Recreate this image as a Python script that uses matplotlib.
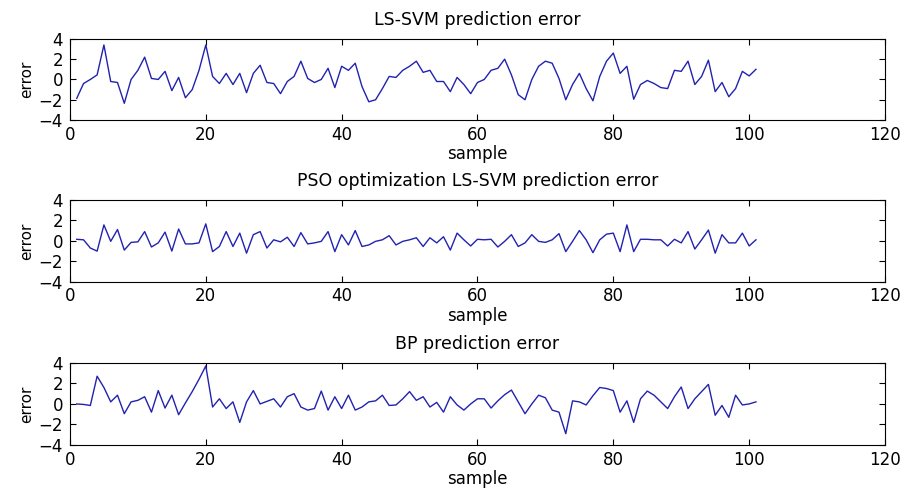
import numpy as np
import matplotlib; matplotlib.use('Agg')
import matplotlib.pyplot as plt

# samples 1..101
sample = np.arange(1, 102)

lssvm_err = [-1.86, -0.4, 0.0, 0.45, 3.4, -0.2, -0.3, -2.35, 0.0, 0.9,
             2.2, 0.1, 0.0, 0.8, -1.1, 0.2, -1.8, -1.0, 0.9, 3.4,
             0.3, -0.4, 0.6, -0.5, 0.6, -1.3, 0.6, 1.4, -0.3, -0.4,
             -1.4, -0.2, 0.3, 1.8, 0.1, -0.3, 0.0, 1.1, -0.8, 1.3,
             0.9, 1.6, -0.7, -2.2, -2.0, -0.9, 0.3, 0.2, 0.9, 1.3,
             1.8, 0.7, 0.9, -0.2, -0.2, -1.2, 0.2, -0.5, -1.4, -0.3,
             0.0, 0.9, 1.1, 2.0, 0.45, -1.5, -2.0, 0.0, 1.3, 1.8,
             1.6, 0.1, -2.0, -0.5, 0.6, -0.9, -2.1, 0.3, 1.8, 2.6,
             0.6, 1.3, -1.95, -0.5, -0.1, -0.4, -0.8, -0.9, 0.9, 0.8,
             1.8, -0.5, 0.3, 1.9, -1.2, -0.3, -1.7, -0.9, 0.8, 0.35,
             1.0]

pso_err = [0.15, 0.1, -0.7, -1.0, 1.55, -0.05, 1.1, -0.9, -0.15, -0.1,
           0.9, -0.6, -0.2, 0.85, -1.0, 1.15, -0.3, -0.3, -0.2, 1.65,
           -1.05, -0.55, 0.9, -0.55, 0.75, -1.2, 0.6, 0.9, -0.7, 0.1,
           -0.1, 0.35, -0.55, 0.8, -0.3, -0.2, -0.05, 0.9, -1.05, 0.6,
           -0.4, 1.0, -0.55, -0.4, -0.05, 0.1, 0.5, -0.4, -0.05, 0.1,
           0.3, -0.55, 0.3, -0.2, 0.4, -0.9, 0.75, 0.1, -0.5, 0.15,
           0.1, 0.15, -0.6, -0.05, 0.6, -0.55, -0.2, 0.6, -0.05, -0.15,
           0.1, 0.7, -1.05, -0.05, 1.0, 0.1, -1.15, 0.1, 0.65, 0.75,
           -1.05, 1.55, -1.05, 0.15, 0.15, 0.1, 0.1, -0.5, 0.15, -0.2,
           0.9, -0.8, 0.1, 1.05, -1.2, 0.6, -0.2, -0.2, 0.75, -0.5,
           0.1]

bp_err = [0.0, -0.05, -0.15, 2.7, 1.6, 0.2, 0.85, -0.95, 0.2, 0.35,
          0.7, -0.8, 1.3, -0.4, 0.85, -1.05, 0.1, 1.2, 2.4, 3.7,
          -0.3, 0.5, -0.45, 0.2, -1.8, 0.2, 1.3, 0.0, 0.25, 0.5,
          -0.3, 0.7, 1.0, -0.3, -0.6, -0.45, 1.25, -0.6, 0.7, -0.45,
          0.85, -0.6, -0.3, 0.2, 0.3, 0.85, -0.15, -0.1, 0.5, 1.2,
          0.35, 0.7, -0.3, 0.15, -0.8, 0.7, -0.1, -0.6, 0.0, 0.5,
          0.5, -0.4, 0.3, 0.9, 1.35, 0.2, -0.95, 0.0, 0.85, 0.6,
          -0.6, -0.8, -2.9, 0.3, 0.2, -0.1, 0.8, 1.6, 1.5, 1.3,
          -0.8, 0.3, -1.8, 0.5, 1.25, 0.85, 0.2, -0.45, 0.7, 1.65,
          -0.45, 0.5, 1.2, 1.9, -1.1, -0.15, -1.3, 0.85, -0.1, 0.0,
          0.2]

titles = ['LS-SVM prediction error',
          'PSO optimization LS-SVM prediction error',
          'BP prediction error']
series = [lssvm_err, pso_err, bp_err]
xticks = [0, 20, 40, 60, 80, 100, 120]
yticks = [-4, -2, 0, 2, 4]

plt.rcParams.update({'font.family': 'DejaVu Sans', 'font.size': 12})

fig = plt.figure(figsize=(9.05, 4.92), dpi=100)
fig.patch.set_facecolor('white')

# axes boxes in figure fractions (left, bottom, width, height)
boxes = [(0.0773, 0.756, 0.9006, 0.165),
         (0.0773, 0.427, 0.9006, 0.167),
         (0.0773, 0.0955, 0.9006, 0.167)]

for box, ttl, ys in zip(boxes, titles, series):
    ax = fig.add_axes(box)
    ax.plot(sample, ys, color='#2222b0', lw=1.0)
    ax.set_xlim(0, 120)
    ax.set_ylim(-4, 4)
    ax.set_xticks(xticks)
    ax.set_yticks(yticks)
    ax.tick_params(direction='in', top=True, right=True, length=4, width=0.8)
    ax.tick_params(axis='x', pad=4)
    ax.tick_params(axis='y', pad=5)
    for s in ax.spines.values():
        s.set_linewidth(0.8)
    ax.set_title(ttl, pad=10, fontsize=12.5)
    ax.set_xlabel('sample', labelpad=1)
    ax.set_ylabel('error', labelpad=3, fontsize=11)

fig.savefig('out.png', dpi=100, facecolor='white')
